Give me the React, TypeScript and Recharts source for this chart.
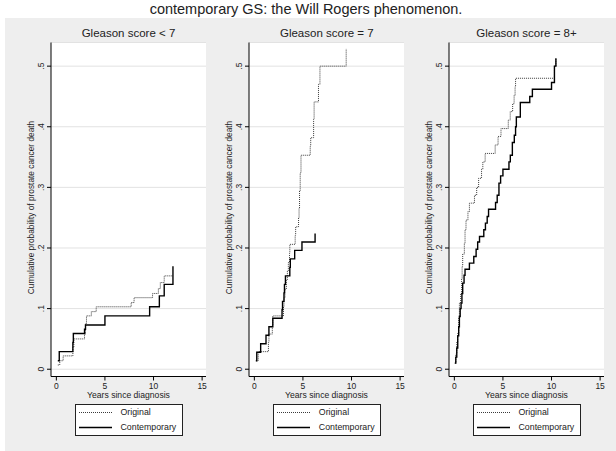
import React from 'react';
import { LineChart, Line, XAxis, YAxis, CartesianGrid, Legend } from 'recharts';

type Pt = { t: number; p: number };

const mainTitle = 'contemporary GS: the Will Rogers phenomenon.';
const panelTitles = ['Gleason score < 7', 'Gleason score = 7', 'Gleason score = 8+'];
const seriesNames = ['Original', 'Contemporary'];
const xTitle = 'Years since diagnosis';
const yTitle = 'Cumulative probability of prostate cancer death';
const xTicks = [0, 5, 10, 15];
const yTicks = [0, 0.1, 0.2, 0.3, 0.4, 0.5];

// Gleason < 7
const lowOriginal: Pt[] = [
  { t: 0.15, p: 0.007 }, { t: 0.35, p: 0.014 }, { t: 0.7, p: 0.022 }, { t: 1.7, p: 0.036 },
  { t: 1.8, p: 0.05 }, { t: 2.9, p: 0.058 }, { t: 3.0, p: 0.075 }, { t: 3.1, p: 0.088 },
  { t: 3.6, p: 0.095 }, { t: 4.1, p: 0.103 }, { t: 7.7, p: 0.11 }, { t: 8.0, p: 0.118 },
  { t: 9.9, p: 0.125 }, { t: 10.5, p: 0.133 }, { t: 10.7, p: 0.143 }, { t: 11.1, p: 0.154 },
  { t: 12.0, p: 0.154 },
];
const lowContemporary: Pt[] = [
  { t: 0.15, p: 0.014 }, { t: 0.3, p: 0.029 }, { t: 1.7, p: 0.044 }, { t: 1.75, p: 0.059 },
  { t: 2.9, p: 0.066 }, { t: 3.0, p: 0.073 }, { t: 5.0, p: 0.088 }, { t: 9.6, p: 0.103 },
  { t: 10.6, p: 0.121 }, { t: 11.1, p: 0.14 }, { t: 12.0, p: 0.17 },
];

// Gleason = 7
const midOriginal: Pt[] = [
  { t: 0.2, p: 0.014 }, { t: 0.4, p: 0.029 }, { t: 1.45, p: 0.044 }, { t: 1.5, p: 0.058 },
  { t: 1.85, p: 0.073 }, { t: 1.9, p: 0.088 }, { t: 3.0, p: 0.103 }, { t: 3.05, p: 0.118 },
  { t: 3.15, p: 0.132 }, { t: 3.3, p: 0.147 }, { t: 3.4, p: 0.162 }, { t: 3.5, p: 0.176 },
  { t: 3.62, p: 0.191 }, { t: 3.65, p: 0.206 }, { t: 4.2, p: 0.221 }, { t: 4.25, p: 0.235 },
  { t: 4.55, p: 0.25 }, { t: 4.6, p: 0.265 }, { t: 4.65, p: 0.294 }, { t: 4.72, p: 0.324 },
  { t: 4.8, p: 0.353 }, { t: 5.75, p: 0.368 }, { t: 5.8, p: 0.382 }, { t: 6.1, p: 0.412 },
  { t: 6.15, p: 0.441 }, { t: 6.6, p: 0.47 }, { t: 6.75, p: 0.5 }, { t: 9.45, p: 0.529 },
];
const midContemporary: Pt[] = [
  { t: 0.15, p: 0.014 }, { t: 0.25, p: 0.028 }, { t: 0.65, p: 0.042 }, { t: 1.2, p: 0.056 },
  { t: 1.5, p: 0.07 }, { t: 1.9, p: 0.084 }, { t: 2.85, p: 0.098 }, { t: 2.9, p: 0.112 },
  { t: 3.05, p: 0.126 }, { t: 3.1, p: 0.14 }, { t: 3.2, p: 0.154 }, { t: 3.65, p: 0.168 },
  { t: 3.7, p: 0.182 }, { t: 4.15, p: 0.196 }, { t: 4.9, p: 0.21 }, { t: 6.25, p: 0.224 },
];

// Gleason = 8+
const highOriginal: Pt[] = [
  { t: 0.05, p: 0.01 }, { t: 0.15, p: 0.025 }, { t: 0.25, p: 0.045 }, { t: 0.34, p: 0.059 },
  { t: 0.45, p: 0.085 }, { t: 0.52, p: 0.109 }, { t: 0.65, p: 0.125 }, { t: 0.75, p: 0.15 },
  { t: 0.8, p: 0.17 }, { t: 0.86, p: 0.19 }, { t: 1.03, p: 0.208 }, { t: 1.1, p: 0.23 },
  { t: 1.2, p: 0.246 }, { t: 1.4, p: 0.26 }, { t: 1.55, p: 0.274 }, { t: 2.07, p: 0.287 },
  { t: 2.3, p: 0.3 }, { t: 2.5, p: 0.315 }, { t: 2.8, p: 0.33 }, { t: 2.93, p: 0.342 },
  { t: 3.17, p: 0.356 }, { t: 4.2, p: 0.37 }, { t: 4.5, p: 0.384 }, { t: 4.8, p: 0.397 },
  { t: 5.55, p: 0.411 }, { t: 5.75, p: 0.425 }, { t: 6.0, p: 0.438 }, { t: 6.15, p: 0.452 },
  { t: 6.25, p: 0.466 }, { t: 6.3, p: 0.48 }, { t: 10.3, p: 0.5 }, { t: 10.45, p: 0.513 },
];
const highContemporary: Pt[] = [
  { t: 0.05, p: 0.01 }, { t: 0.15, p: 0.02 }, { t: 0.25, p: 0.035 }, { t: 0.35, p: 0.055 },
  { t: 0.45, p: 0.07 }, { t: 0.52, p: 0.087 }, { t: 0.6, p: 0.1 }, { t: 0.69, p: 0.109 },
  { t: 0.78, p: 0.125 }, { t: 0.86, p: 0.142 }, { t: 1.0, p: 0.155 }, { t: 1.1, p: 0.165 },
  { t: 1.55, p: 0.175 }, { t: 2.0, p: 0.186 }, { t: 2.24, p: 0.198 }, { t: 2.4, p: 0.21 },
  { t: 2.59, p: 0.219 }, { t: 3.03, p: 0.23 }, { t: 3.2, p: 0.241 }, { t: 3.38, p: 0.252 },
  { t: 3.52, p: 0.264 }, { t: 4.24, p: 0.275 }, { t: 4.41, p: 0.287 }, { t: 4.59, p: 0.307 },
  { t: 4.76, p: 0.319 }, { t: 5.0, p: 0.33 }, { t: 5.62, p: 0.342 }, { t: 5.76, p: 0.353 },
  { t: 5.97, p: 0.374 }, { t: 6.17, p: 0.386 }, { t: 6.3, p: 0.4 }, { t: 6.38, p: 0.416 },
  { t: 6.79, p: 0.44 }, { t: 7.76, p: 0.45 }, { t: 8.03, p: 0.462 }, { t: 10.0, p: 0.473 },
  { t: 10.3, p: 0.5 }, { t: 10.45, p: 0.513 },
];

const font = '"Liberation Sans", Arial, Helvetica, sans-serif';
const ink = '#222';
const dotted = { stroke: '#3a3a3a', strokeWidth: 1, strokeDasharray: '1 1' };
const solid = { stroke: '#000', strokeWidth: 1.4 };

const panels = [
  { title: panelTitles[0], original: lowOriginal, contemporary: lowContemporary, left: 1 },
  { title: panelTitles[1], original: midOriginal, contemporary: midContemporary, left: 199.3 },
  { title: panelTitles[2], original: highOriginal, contemporary: highContemporary, left: 399 },
];

const yLabel = (v: number) => (v === 0 ? '0' : '.' + Math.round(v * 10));

const YTick = (props: any) => {
  const { x, y, payload } = props;
  const tx = x - 1;
  return (
    <text x={tx} y={y} transform={`rotate(-90 ${tx} ${y})`} textAnchor="middle"
      fontSize={8.5} fill={ink} fontFamily={font}>
      {yLabel(payload.value)}
    </text>
  );
};

const XTitle = (props: any) => {
  const vb = props.viewBox;
  return (
    <text x={vb.x + vb.width / 2} y={vb.y + 21} textAnchor="middle" fontSize={8.6} fill={ink} fontFamily={font}>
      {xTitle}
    </text>
  );
};

const YTitle = (props: any) => {
  const vb = props.viewBox;
  const x = vb.x + vb.width - 17;
  const y = vb.y + vb.height / 2 - 2;
  return (
    <text x={x} y={y} transform={`rotate(-90 ${x} ${y})`} textAnchor="middle" fontSize={8.3} fill={ink} fontFamily={font}>
      {yTitle}
    </text>
  );
};

const LegendBox = () => (
  <div style={{
    width: 108, height: 32, boxSizing: 'border-box', border: '1px solid #222', background: '#fff',
    position: 'relative', fontFamily: font, fontSize: 8.8, color: ink,
  }}>
    {seriesNames.map((name, i) => (
      <div key={name} style={{ position: 'absolute', left: 0, top: i === 0 ? 1 : 16, height: 13, display: 'flex', alignItems: 'center' }}>
        <svg width={42} height={13}>
          <line x1={3} x2={36} y1={6.5} y2={6.5} {...(i === 0 ? dotted : solid)} />
        </svg>
        <span style={{ marginLeft: 3, lineHeight: '13px' }}>{name}</span>
      </div>
    ))}
  </div>
);

const Panel = ({ title, original, contemporary, left }: { title: string; original: Pt[]; contemporary: Pt[]; left: number }) => (
  <>
    <div style={{
      position: 'absolute', left: left + 50, top: 27, width: 155, textAlign: 'center',
      fontSize: 11.5, lineHeight: '13px', color: ink, fontFamily: font,
    }}>
      {title}
    </div>
    <div style={{ position: 'absolute', left, top: 0 }}>
      <LineChart width={215} height={451} margin={{ top: 42.5, right: 10, bottom: 44.5, left: 10 }}>
        <CartesianGrid vertical={false} stroke="#e2e2e2" fill="#ffffff" />
        <XAxis type="number" dataKey="t" domain={[-0.55, 15.4]} ticks={xTicks} allowDataOverflow
          height={30} tickSize={4} stroke="#000" tickLine={{ stroke: '#000' }} interval={0}
          tick={{ fontSize: 8.5, fill: ink, fontFamily: font }} label={<XTitle />} />
        <YAxis type="number" dataKey="p" domain={[-0.012, 0.539]} ticks={yTicks} allowDataOverflow
          width={40} tickSize={4} stroke="#000" tickLine={{ stroke: '#000' }} interval={0}
          tick={<YTick />} label={<YTitle />} />
        <Line data={original} dataKey="p" name={seriesNames[0]} type="stepAfter" {...dotted}
          dot={false} activeDot={false} isAnimationActive={false} />
        <Line data={contemporary} dataKey="p" name={seriesNames[1]} type="stepAfter" {...solid}
          dot={false} activeDot={false} isAnimationActive={false} />
        <Legend layout="horizontal" verticalAlign="middle" align="center" content={<LegendBox />}
          wrapperStyle={{ left: 73.5, top: 403.5, width: 108, height: 32 }} />
      </LineChart>
    </div>
  </>
);

export default function App() {
  return (
    <div style={{ position: 'absolute', left: 0, top: 0, width: 616, height: 451, background: '#fff', overflow: 'hidden', fontFamily: font }}>
      <div style={{ position: 'absolute', left: 5, top: 18, right: 0, bottom: 0, background: '#eeeeee' }} />
      <div style={{ position: 'absolute', left: 0, top: 1, width: 612, textAlign: 'center', fontSize: 14.5, lineHeight: '16px', color: ink }}>
        {mainTitle}
      </div>
      {panels.map((pn) => (
        <Panel key={pn.title} {...pn} />
      ))}
    </div>
  );
}
